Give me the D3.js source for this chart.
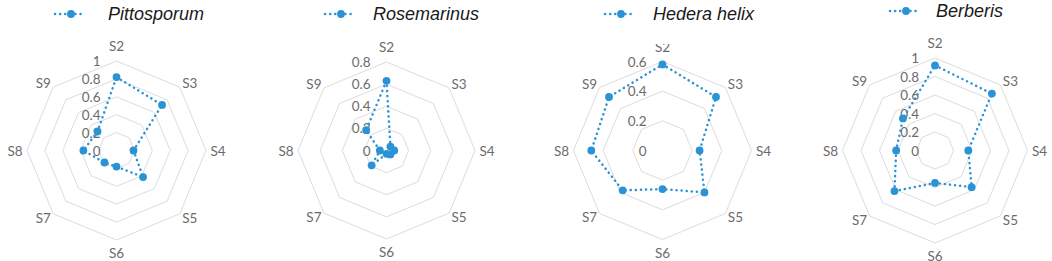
<!DOCTYPE html>
<html><head><meta charset="utf-8">
<script src="https://cdn.jsdelivr.net/npm/d3@7"></script>
<style>
html,body{margin:0;padding:0;background:#fff;}
svg{display:block;}
</style></head>
<body>
<svg id="chart" width="1052" height="261"></svg>
<script>
const categories = ["S2","S3","S4","S5","S6","S7","S8","S9"];
const seriesNames = ["Pittosporum","Rosemarinus","Hedera helix","Berberis"];
const pittosporum = [0.82, 0.72, 0.19, 0.42, 0.18, 0.19, 0.37, 0.30];
const rosemarinus = [0.63, 0.05, 0.07, 0.05, 0.03, 0.19, 0.06, 0.26];
const hederaHelix = [0.58, 0.51, 0.25, 0.40, 0.26, 0.38, 0.48, 0.51];
const berberis   = [0.92, 0.87, 0.36, 0.56, 0.35, 0.62, 0.42, 0.49];
const tickLabels1 = ["0","0.2","0.4","0.6","0.8","1"];
const tickLabels08 = ["0","0.2","0.4","0.6","0.8"];
const tickLabels06 = ["0","0.2","0.4","0.6"];

const charts = [
  {name: seriesNames[0], values: pittosporum, ticks: tickLabels1, cx:116.5, cy:150.5, R:89.5, legY:14, lineX:55, textX:108},
  {name: seriesNames[1], values: rosemarinus, ticks: tickLabels08, cx:386.5, cy:150.5, R:88.5, legY:14, lineX:325, textX:373},
  {name: seriesNames[2], values: hederaHelix, ticks: tickLabels06, cx:662.5, cy:150.5, R:89, legY:14, lineX:605, textX:653, clipTop:44},
  {name: seriesNames[3], values: berberis, ticks: tickLabels1, cx:935, cy:150.5, R:92.5, legY:11, lineX:890, textX:936}
];

const blue = "#2a93d5";
const svg = d3.select("#chart");
const n = categories.length;
const angle = d3.scalePoint().domain(categories).range([0, 2*Math.PI*(n-1)/n]);

charts.forEach(c => {
  const maxV = +c.ticks[c.ticks.length-1];
  const r = d3.scaleLinear().domain([0, maxV]).range([0, c.R]);
  const g = svg.append("g").attr("transform", `translate(${c.cx},${c.cy})`);

  // grid octagons
  const ringVals = c.ticks.map(Number).filter(v => v > 0);
  ringVals.forEach(v => {
    g.append("path")
      .attr("d", d3.lineRadial().angle(d => angle(d)).radius(() => r(v)).curve(d3.curveLinearClosed)(categories))
      .attr("fill","none").attr("stroke","#dcdcdc").attr("stroke-width",1);
  });

  // category labels
  categories.forEach(cat => {
    const a = angle(cat);
    const s = Math.sin(a), co = Math.cos(a);
    let dx, dy;
    if (co > 0.99) { dx = 0; dy = -(c.R + 15); }
    else if (co < -0.99) { dx = 0; dy = c.R + 13; }
    else if (Math.abs(s) > 0.99) { dx = Math.sign(s)*(c.R + 12); dy = 0; }
    else { dx = Math.sign(s)*(c.R*0.7071 + 10); dy = -Math.sign(co)*(c.R*0.7071 + 4); }
    g.append("text").attr("x", dx).attr("y", dy)
      .attr("text-anchor","middle").attr("dominant-baseline","central")
      .attr("font-family","Lato, 'Open Sans', sans-serif").attr("font-size",13.5)
      .attr("fill","#6b6b6b").text(cat);
  });

  // tick labels
  c.ticks.forEach(t => {
    g.append("text").attr("x", -16).attr("y", -r(+t))
      .attr("text-anchor","end").attr("dominant-baseline","central")
      .attr("font-family","Lato, 'Open Sans', sans-serif").attr("font-size",13.5)
      .attr("fill","#6b6b6b").text(t);
  });

  // data line
  const pts = categories.map((cat,i) => ({cat, v: c.values[i]}));
  g.append("path")
    .attr("d", d3.lineRadial().angle(d => angle(d.cat)).radius(d => r(d.v)).curve(d3.curveLinearClosed)(pts))
    .attr("fill","none").attr("stroke",blue).attr("stroke-width",2.5)
    .attr("stroke-linecap","round").attr("stroke-dasharray","0.1 5");
  g.selectAll("circle.pt").data(pts).enter().append("circle")
    .attr("cx", d => r(d.v)*Math.sin(angle(d.cat)))
    .attr("cy", d => -r(d.v)*Math.cos(angle(d.cat)))
    .attr("r", 3.9).attr("fill", blue);

  // legend (with white background, as in the reference where it overlaps)
  if (c.clipTop) {
    svg.append("rect").attr("x", c.cx - 30).attr("y", 0).attr("width", 60).attr("height", c.clipTop).attr("fill","#fff");
  }
  const lg = svg.append("g");
  lg.append("line").attr("x1", c.lineX).attr("x2", c.lineX+30).attr("y1", c.legY).attr("y2", c.legY)
    .attr("stroke", blue).attr("stroke-width",2.5).attr("stroke-linecap","round").attr("stroke-dasharray","0.1 5");
  lg.append("circle").attr("cx", c.lineX+16).attr("cy", c.legY).attr("r",3.9).attr("fill",blue);
  lg.append("text").attr("x", c.textX).attr("y", c.legY+5.5)
    .attr("font-family","'Liberation Sans', Arial, sans-serif").attr("font-style","italic")
    .attr("font-size",18).attr("fill","#1a1a1a").text(c.name);
});
</script>
</body></html>
